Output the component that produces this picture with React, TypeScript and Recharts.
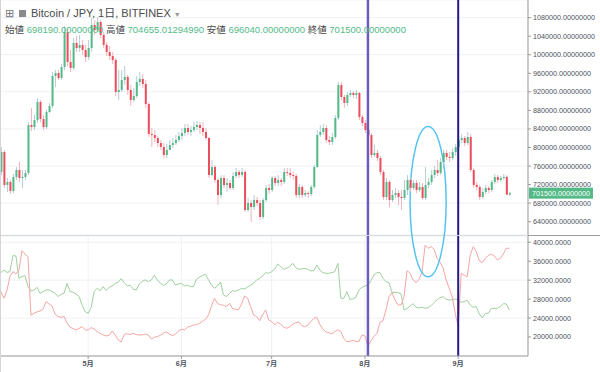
import React from "react";
import {
  Bar,
  CartesianGrid,
  ComposedChart,
  Line,
  ReferenceArea,
  ReferenceLine,
  XAxis,
  YAxis,
} from "recharts";

// daily BTC/JPY candles (Bitfinex), day 0 = Apr 2
const opens = [
  747100, 790200, 719100, 725600, 706100, 736300, 751400, 734200, 736300, 745000,
  848500, 844100, 859200, 898100, 861400, 844100, 876500, 889400, 954100, 960600,
  949800, 973500, 1049000, 984300, 971400, 1025300, 1014500, 1021000, 1010200, 995100,
  1014500, 1064100, 1053300, 1070600, 1042500, 1021000, 1005900, 997200, 988600, 919600,
  923900, 945500, 952000, 923900, 902400, 911000, 941200, 947700, 936900, 893700,
  829100, 826900, 820400, 809600, 801000, 783800, 794600, 805300, 809600, 816100,
  824700, 831200, 842000, 833400, 837700, 844100, 848500, 842000, 833400, 820400,
  740600, 757900, 729900, 697500, 734200, 719100, 723400, 712600, 738500, 747100,
  740600, 747100, 665200, 680300, 671600, 686700, 680300, 650100, 686700, 712600,
  708300, 734200, 723400, 729900, 725600, 747100, 745000, 740600, 738500, 697500,
  714800, 697500, 701800, 699700, 714800, 757900, 826900, 833400, 842000, 816100,
  811800, 822600, 863600, 934700, 908800, 895900, 913200, 917500, 913200, 917500,
  865700, 852800, 837700, 826900, 783800, 788100, 777300, 747100, 693200, 725600,
  686700, 697500, 701800, 693200, 691100, 708300, 729900, 712600, 723400, 708300,
  714800, 691100, 719100, 725600, 740600, 751400, 745000, 768700, 788100, 779500,
  777300, 790200, 801000, 816100, 820400, 809600, 822600, 751400, 719100, 714800,
  693200, 704000, 712600, 708300, 725600, 736300, 729900, 734200, 736300, 698190,
];

const highs = [
  801000, 794600, 734200, 729900, 742800, 757900, 768700, 751400, 751400, 854900,
  885100, 870000, 906700, 902400, 870000, 880800, 895900, 962700, 967100, 967100,
  980000, 1061900, 1057600, 1010200, 1036100, 1040400, 1042500, 1031700, 1021000, 1031700,
  1079200, 1074900, 1081300, 1074900, 1049000, 1027400, 1018800, 1005900, 992900, 967100,
  967100, 975700, 956300, 934700, 928200, 954100, 962700, 958400, 945500, 898100,
  842000, 837700, 824700, 816100, 809600, 807500, 816100, 820400, 826900, 833400,
  842000, 850600, 850600, 846300, 854900, 857100, 854900, 854900, 842000, 822600,
  773000, 762200, 734200, 740600, 740600, 734200, 729900, 747100, 755700, 751400,
  755700, 751400, 691100, 686700, 697500, 693200, 686700, 691100, 719100, 721200,
  738500, 738500, 740600, 734200, 755700, 755700, 755700, 747100, 742800, 721200,
  719100, 708300, 706100, 719100, 762200, 837700, 848500, 850600, 848500, 824700,
  831200, 870000, 941200, 941200, 913200, 919600, 923900, 921800, 923900, 919600,
  870000, 859200, 842000, 831200, 805300, 794600, 781600, 751400, 734200, 729900,
  708300, 712600, 708300, 708300, 729900, 740600, 734200, 729900, 729900, 725600,
  723400, 757900, 734200, 751400, 760100, 773000, 777300, 794600, 794600, 790200,
  798900, 807500, 824700, 829100, 824700, 833400, 829100, 755700, 725600, 719100,
  712600, 719100, 716900, 729900, 742800, 740600, 738500, 742800, 740600, 704655.0129499,
];

const lows = [
  740600, 712600, 704000, 699700, 701800, 729900, 725600, 712600, 729900, 740600,
  835500, 837700, 852800, 854900, 837700, 839800, 874300, 885100, 930400, 945500,
  945500, 967100, 975700, 962700, 967100, 1005900, 1005900, 999400, 984300, 988600,
  1005900, 1042500, 1049000, 1036100, 1014500, 997200, 988600, 980000, 911000, 902400,
  919600, 934700, 913200, 889400, 898100, 906700, 932600, 928200, 885100, 822600,
  801000, 811800, 801000, 794600, 777300, 777300, 794600, 798900, 805300, 811800,
  816100, 824700, 826900, 824700, 833400, 837700, 829100, 824700, 816100, 734200,
  738500, 723400, 676000, 691100, 712600, 704000, 708300, 708300, 734200, 734200,
  736300, 660900, 660900, 639300, 665200, 673800, 643600, 645800, 682400, 699700,
  704000, 716900, 716900, 716900, 721200, 738500, 734200, 729900, 691100, 691100,
  691100, 693200, 691100, 695400, 710500, 755700, 822600, 826900, 809600, 805300,
  805300, 818300, 859200, 902400, 885100, 889400, 908800, 906700, 904500, 859200,
  846300, 831200, 816100, 777300, 779500, 770800, 740600, 686700, 686700, 671600,
  682400, 691100, 676000, 665200, 686700, 697500, 704000, 708300, 701800, 704000,
  686700, 686700, 712600, 719100, 734200, 738500, 740600, 762200, 773000, 768700,
  773000, 781600, 794600, 809600, 803200, 805300, 747100, 712600, 708300, 686700,
  688900, 699700, 701800, 704000, 721200, 723400, 725600, 729900, 697500, 696040,
];

const closes = [
  790200, 719100, 725600, 706100, 736300, 751400, 734200, 736300, 745000, 848500,
  844100, 859200, 898100, 861400, 844100, 876500, 889400, 954100, 960600, 949800,
  973500, 1049000, 984300, 971400, 1025300, 1014500, 1021000, 1010200, 995100, 1014500,
  1064100, 1053300, 1070600, 1042500, 1021000, 1005900, 997200, 988600, 919600, 923900,
  945500, 952000, 923900, 902400, 911000, 941200, 947700, 936900, 893700, 829100,
  826900, 820400, 809600, 801000, 783800, 794600, 805300, 809600, 816100, 824700,
  831200, 842000, 833400, 837700, 844100, 848500, 842000, 833400, 820400, 740600,
  757900, 729900, 697500, 734200, 719100, 723400, 712600, 738500, 747100, 740600,
  747100, 665200, 680300, 671600, 686700, 680300, 650100, 686700, 712600, 708300,
  734200, 723400, 729900, 725600, 747100, 745000, 740600, 738500, 697500, 714800,
  697500, 701800, 699700, 714800, 757900, 826900, 833400, 842000, 816100, 811800,
  822600, 863600, 934700, 908800, 895900, 913200, 917500, 913200, 917500, 865700,
  852800, 837700, 826900, 783800, 788100, 777300, 747100, 693200, 725600, 686700,
  697500, 701800, 693200, 691100, 708300, 729900, 712600, 723400, 708300, 714800,
  691100, 719100, 725600, 740600, 751400, 745000, 768700, 788100, 779500, 777300,
  790200, 801000, 816100, 820400, 809600, 822600, 751400, 719100, 714800, 693200,
  704000, 712600, 708300, 725600, 736300, 729900, 734200, 736300, 698190, 701500,
];

// lower pane: two indicator lines
const greenLine = [
  33590, 34150, 33660, 33800, 37180, 37110, 32390, 32740, 32950, 30630,
  29710, 29920, 30490, 29220, 29570, 29920, 29920, 29570, 29220, 28510,
  29010, 29220, 31330, 29570, 29430, 29080, 28510, 26750, 25340, 24990,
  26260, 29570, 30280, 29780, 30630, 29780, 30490, 30770, 31330, 31540,
  32320, 31470, 30770, 30910, 30060, 29920, 31190, 31760, 32040, 31680,
  32040, 33020, 32040, 31330, 30910, 31190, 32040, 32040, 30980, 31190,
  31330, 30770, 30910, 30630, 30630, 32180, 32600, 33020, 33230, 32040,
  30980, 30280, 30770, 31610, 28870, 28510, 29220, 29780, 29640, 29920,
  30280, 30130, 30560, 30910, 31330, 32040, 32390, 32880, 33590, 33450,
  33800, 34290, 35420, 34860, 34290, 34500, 34860, 35560, 34640, 34290,
  34360, 34500, 34290, 33940, 34010, 35210, 34150, 33590, 33450, 33450,
  33590, 33800, 35560, 28160, 28160, 29570, 27950, 28020, 28370, 29920,
  30490, 30770, 30980, 31900, 33090, 33590, 33590, 32390, 31680, 31470,
  29360, 29430, 29360, 29080, 25690, 25980, 26540, 27030, 26260, 26120,
  26260, 26050, 26190, 26610, 27250, 27880, 28300, 28510, 27950, 27810,
  27810, 28020, 27810, 27320, 27460, 27740, 26750, 26260, 26400, 24850,
  24000, 24990, 24990, 25980, 26050, 26050, 26400, 27030, 26960, 25690,
];

const redLine = [
  29570, 28160, 29780, 32740, 33800, 33310, 34150, 38240, 37530, 36970,
  24570, 24990, 25270, 25480, 25840, 27460, 26960, 26540, 24850, 24290,
  24140, 24290, 22880, 22030, 21750, 21470, 21820, 22170, 21470, 21470,
  21960, 21680, 21110, 20760, 20410, 20200, 20340, 21260, 20410, 19350,
  18930, 20550, 20690, 20480, 20760, 20480, 20410, 20410, 20620, 20410,
  19560, 19920, 20060, 20340, 20760, 21040, 20620, 20270, 20550, 21260,
  21610, 21470, 22030, 22240, 22520, 22590, 22880, 23300, 23720, 24640,
  26540, 28160, 27030, 26820, 26680, 26400, 27100, 25980, 25840, 25770,
  26960, 28650, 28160, 26400, 24640, 24290, 23440, 24640, 25690, 23580,
  23230, 22590, 23090, 22730, 22030, 21820, 22170, 22660, 23020, 23160,
  22380, 22170, 22450, 23230, 23930, 24140, 22660, 21680, 21040, 20900,
  20620, 21110, 21540, 21110, 19630, 19000, 19070, 19280, 19070, 19000,
  20410, 20200, 18080, 19210, 20060, 20760, 23090, 23440, 25690, 28510,
  29360, 27810, 26750, 26750, 28510, 34010, 33450, 32040, 31470, 32180,
  33800, 39370, 38730, 39080, 38520, 36620, 35770, 34500, 32040, 30280,
  28510, 24990, 22170, 33450, 33020, 32740, 37320, 39080, 38030, 36120,
  35700, 36620, 37180, 37530, 37110, 36270, 36620, 37530, 38730, 38730,
];

const monthTicks = [29, 60, 90, 121, 152];
const monthLabels = ["5月", "6月", "7月", "8月", "9月"];
const priceTicks = [640000, 680000, 720000, 760000, 800000, 840000, 880000, 920000, 960000, 1000000, 1040000, 1080000];
const lowerTicks = [20000, 24000, 28000, 32000, 36000, 40000];

// drawn annotations (day index / price)
const markerDays = [122, 152];
const ellipseDays = [136, 148];
const ellipsePrices = [521000, 845000];

const rows = closes.map((c, i) => ({
  i,
  open: opens[i],
  high: highs[i],
  low: lows[i],
  close: c,
  range: [lows[i], highs[i]],
  g: greenLine[i],
  r: redLine[i],
}));

const last = rows[rows.length - 1];

const UP = "#53b987";
const DOWN = "#eb4d5c";
const WICK_UP = "#b3cdd4";
const WICK_DOWN = "#f4b3ba";
const GRID = "#eef1f5";
const AXIS = "#9b9b9b";
const TEXT = "#4c525e";
const FONT = "'Liberation Sans', 'Noto Sans CJK JP', sans-serif";
const X_DOMAIN: [number, number] = [-0.3, 175.2];

function Candle(props: any) {
  const { x, y, width, height, payload } = props;
  if (x == null || !payload) return null;
  const top = Math.min(y, y + height);
  const h = Math.abs(height);
  const span = payload.high - payload.low || 1;
  const py = (v: number) => top + ((payload.high - v) / span) * h;
  const up = payload.close >= payload.open;
  const bTop = py(Math.max(payload.open, payload.close));
  const bBot = py(Math.min(payload.open, payload.close));
  const cx = x + width / 2;
  return (
    <g>
      <line x1={cx} x2={cx} y1={top} y2={top + h} stroke={up ? WICK_UP : WICK_DOWN} strokeWidth={1} />
      <rect x={x} y={bTop} width={width} height={Math.max(1, bBot - bTop)} fill={up ? UP : DOWN} />
    </g>
  );
}

function EllipseShape(props: any) {
  const { x, y, width, height } = props;
  if (x == null) return null;
  return (
    <ellipse
      cx={x + width / 2}
      cy={y + height / 2}
      rx={Math.abs(width) / 2}
      ry={Math.abs(height) / 2}
      fill="none"
      stroke="#55c3f2"
      strokeWidth={1.5}
    />
  );
}

function PriceTag(props: any) {
  const vb = props.viewBox;
  if (!vb) return null;
  const x0 = vb.x + vb.width + 1;
  return (
    <g>
      <rect x={x0} y={vb.y - 5.5} width={64} height={11} fill={UP} />
      <text x={x0 + 3} y={vb.y} dy="0.35em" fontSize={7.2} fill="#fff" fontFamily={FONT}>
        {last.close.toFixed(8)}
      </text>
    </g>
  );
}

const tickStyle = { fill: TEXT, fontSize: 7.2, fontFamily: FONT };

export default function App() {
  const green = { color: UP };
  return (
    <div style={{ position: "relative", width: 600, height: 372, fontFamily: FONT, background: "#fff" }}>
      <style>{`body{margin:0} .recharts-surface{overflow:visible}`}</style>
      <div style={{ position: "absolute", left: 0, top: 0, width: 1, height: 372, background: "#d4d4d4", zIndex: 3 }} />
      <div
        style={{
          position: "absolute",
          left: 5,
          top: 6,
          zIndex: 3,
          color: "#4a4a4a",
          pointerEvents: "none",
          whiteSpace: "nowrap",
        }}
      >
        <div style={{ fontSize: 11, lineHeight: "14px" }}>
          <span style={{ color: "#777" }}>⊞</span>
          <span
            style={{
              display: "inline-block",
              width: 7,
              height: 7,
              background: "#8a8a8a",
              marginLeft: 5,
              marginRight: 5,
            }}
          />
          Bitcoin / JPY, 1日, BITFINEX <span style={{ color: "#999", fontSize: 7 }}>▼</span>
        </div>
        <div style={{ fontSize: 9.5, lineHeight: "14px", marginTop: 1 }}>
          始値 <span style={green}>{last.open.toFixed(8)}</span> 高値{" "}
          <span style={green}>{last.high.toFixed(8)}</span> 安値{" "}
          <span style={green}>{last.low.toFixed(8)}</span> 終値{" "}
          <span style={green}>{last.close.toFixed(8)}</span>
        </div>
      </div>

      <div style={{ position: "relative", zIndex: 2, height: 235 }}>
        <ComposedChart width={600} height={235} data={rows} margin={{ top: 0, right: 0, bottom: 0, left: 0 }}>
          <CartesianGrid stroke={GRID} />
          <XAxis
            dataKey="i"
            type="number"
            domain={X_DOMAIN}
            allowDataOverflow
            ticks={monthTicks}
            height={0}
            tick={false}
            tickLine={false}
            axisLine={false}
          />
          <YAxis
            orientation="right"
            width={72}
            domain={[611270, 1118000]}
            allowDataOverflow
            ticks={priceTicks}
            tickFormatter={(v: number) => v.toFixed(8)}
            tick={tickStyle}
            tickSize={3}
            tickMargin={2}
            tickLine={{ stroke: AXIS }}
            axisLine={{ stroke: AXIS }}
          />
          <Bar dataKey="range" barSize={2} shape={<Candle />} isAnimationActive={false} />
          <ReferenceLine x={markerDays[0]} stroke="#5c4ab4" strokeWidth={2.5} strokeOpacity={0.9} />
          <ReferenceLine x={markerDays[1]} stroke="#281a82" strokeWidth={2} />
          <ReferenceLine y={last.close} stroke="none" ifOverflow="visible" label={<PriceTag />} />
          <ReferenceArea
            x1={ellipseDays[0]}
            x2={ellipseDays[1]}
            y1={ellipsePrices[0]}
            y2={ellipsePrices[1]}
            ifOverflow="visible"
            shape={<EllipseShape />}
          />
        </ComposedChart>
      </div>

      <div style={{ position: "relative", zIndex: 1, borderTop: "1px solid #9c9c9c", height: 136 }}>
        <ComposedChart width={600} height={136} data={rows} margin={{ top: 0, right: 0, bottom: 0, left: 0 }}>
          <CartesianGrid stroke={GRID} />
          <XAxis
            dataKey="i"
            type="number"
            domain={X_DOMAIN}
            allowDataOverflow
            ticks={monthTicks}
            tickFormatter={(v: number) => monthLabels[monthTicks.indexOf(v)] ?? ""}
            height={16}
            tick={{ ...tickStyle, fontWeight: "bold" }}
            tickSize={3}
            tickMargin={2}
            tickLine={{ stroke: AXIS }}
            axisLine={{ stroke: AXIS }}
          />
          <YAxis
            orientation="right"
            width={72}
            domain={[15962, 41332]}
            allowDataOverflow
            ticks={lowerTicks}
            tickFormatter={(v: number) => v.toFixed(4)}
            tick={tickStyle}
            tickSize={3}
            tickMargin={2}
            tickLine={{ stroke: AXIS }}
            axisLine={{ stroke: AXIS }}
          />
          <Line dataKey="g" type="linear" stroke="#9fd09f" strokeWidth={1} dot={false} isAnimationActive={false} />
          <Line dataKey="r" type="linear" stroke="#f6a5a5" strokeWidth={1} dot={false} isAnimationActive={false} />
          <ReferenceLine x={markerDays[0]} stroke="#5c4ab4" strokeWidth={2.5} strokeOpacity={0.9} />
          <ReferenceLine x={markerDays[1]} stroke="#281a82" strokeWidth={2} />
        </ComposedChart>
      </div>
    </div>
  );
}
